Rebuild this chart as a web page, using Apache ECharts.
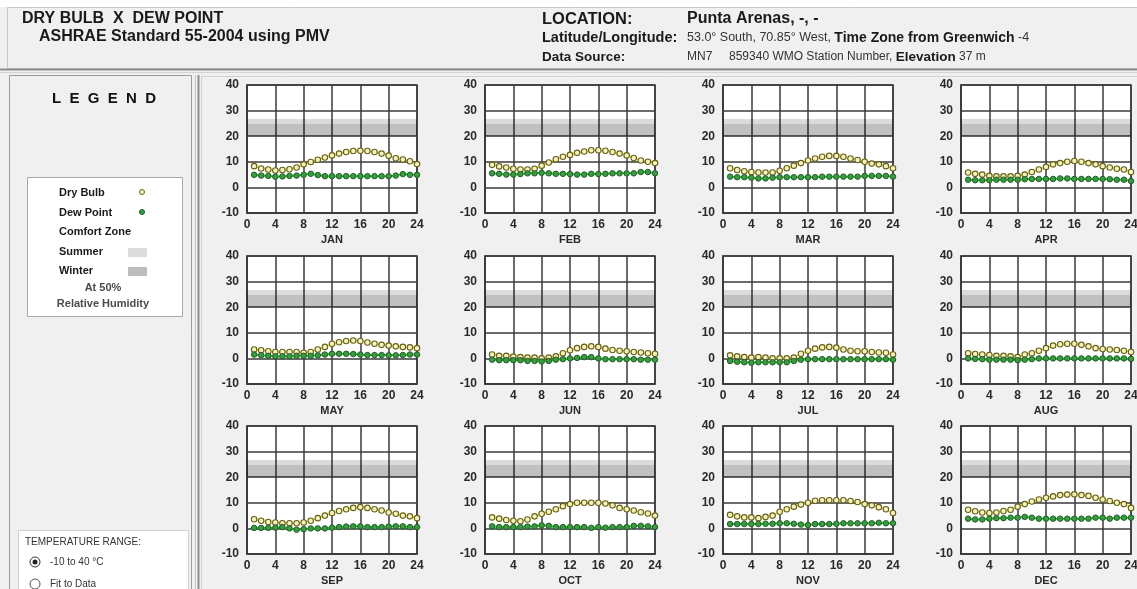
<!DOCTYPE html>
<html>
<head>
<meta charset="utf-8">
<title>Dry Bulb x Dew Point - Punta Arenas</title>
<script src="https://cdn.jsdelivr.net/npm/echarts@6/dist/echarts.min.js"></script>
<style>
  html, body { margin: 0; padding: 0; background: #f0f0f0; }
  #chart { width: 1137px; height: 589px; }
</style>
</head>
<body>
<div id="chart"></div>
<script>
// Hourly averages (hour 1..24), degrees C
const hours = [1, 2, 3, 4, 5, 6, 7, 8, 9, 10, 11, 12, 13, 14, 15, 16, 17, 18, 19, 20, 21, 22, 23, 24];
const months = ['JAN', 'FEB', 'MAR', 'APR', 'MAY', 'JUN', 'JUL', 'AUG', 'SEP', 'OCT', 'NOV', 'DEC'];

const dryJan = [8.3, 7.4, 7.0, 6.6, 6.8, 7.1, 7.8, 9.0, 9.9, 10.8, 11.7, 12.5, 13.2, 13.8, 14.2, 14.3, 14.2, 13.8, 13.2, 12.4, 11.4, 10.9, 10.2, 9.1];
const dewJan = [4.9, 4.6, 4.5, 4.2, 4.3, 4.5, 4.6, 4.9, 5.3, 4.8, 4.4, 4.4, 4.4, 4.4, 4.4, 4.4, 4.4, 4.4, 4.4, 4.4, 4.6, 5.2, 4.9, 4.9];
const dryFeb = [8.8, 8.2, 7.8, 7.3, 7.0, 7.0, 7.3, 8.5, 9.7, 11.0, 12.0, 12.7, 13.5, 14.0, 14.5, 14.5, 14.3, 13.8, 13.2, 12.5, 11.5, 10.5, 10.0, 9.5];
const dewFeb = [5.5, 5.3, 5.0, 5.0, 5.2, 5.5, 5.5, 5.7, 5.5, 5.3, 5.3, 5.2, 5.0, 5.0, 5.3, 5.2, 5.3, 5.5, 5.5, 5.5, 5.5, 6.0, 6.0, 5.5];
const dryMar = [7.5, 6.8, 6.3, 6.0, 5.8, 5.8, 5.8, 6.5, 7.5, 8.5, 9.5, 10.5, 11.3, 12.0, 12.3, 12.3, 12.0, 11.3, 10.7, 10.0, 9.3, 9.0, 8.3, 7.5];
const dewMar = [4.2, 4.0, 4.0, 3.8, 3.5, 3.5, 3.8, 4.0, 4.0, 4.0, 4.0, 4.0, 4.0, 4.2, 4.2, 4.2, 4.2, 4.2, 4.2, 4.5, 4.5, 4.5, 4.5, 4.2];
const dryApr = [5.8, 5.3, 5.0, 4.5, 4.3, 4.3, 4.3, 4.5, 5.0, 6.0, 7.0, 8.0, 9.0, 9.5, 10.0, 10.3, 10.0, 9.5, 9.0, 8.3, 7.8, 7.3, 7.0, 6.0];
const dewApr = [3.0, 2.8, 2.8, 2.8, 3.0, 3.0, 3.0, 3.0, 3.2, 3.3, 3.3, 3.3, 3.3, 3.5, 3.5, 3.3, 3.3, 3.3, 3.3, 3.3, 3.2, 3.0, 3.0, 2.5];
const dryMay = [3.5, 3.2, 2.8, 2.5, 2.5, 2.5, 2.5, 2.2, 2.5, 3.5, 4.5, 5.7, 6.3, 6.8, 7.0, 6.8, 6.2, 5.7, 5.3, 5.0, 4.7, 4.5, 4.3, 4.0];
const dewMay = [1.5, 1.2, 1.0, 0.8, 0.8, 0.8, 1.0, 1.0, 1.0, 1.2, 1.5, 1.8, 1.8, 1.8, 1.7, 1.5, 1.3, 1.3, 1.3, 1.2, 1.2, 1.3, 1.5, 1.5];
const dryJun = [1.5, 1.0, 1.0, 0.7, 0.5, 0.3, 0.3, 0.0, 0.3, 0.8, 2.0, 3.2, 4.0, 4.5, 4.7, 4.5, 3.8, 3.3, 3.0, 2.8, 2.5, 2.3, 2.0, 1.8];
const dewJun = [-0.5, -0.7, -0.7, -0.7, -0.7, -1.0, -1.0, -1.2, -1.0, -0.5, -0.3, 0.0, 0.2, 0.5, 0.5, 0.0, -0.3, -0.3, -0.3, -0.3, -0.3, -0.5, -0.5, -0.5];
const dryJul = [1.2, 0.8, 0.5, 0.3, 0.5, 0.3, 0.0, 0.0, 0.0, 0.3, 1.8, 3.0, 3.8, 4.3, 4.5, 4.2, 3.5, 3.0, 2.8, 2.8, 2.5, 2.3, 2.2, 1.5];
const dewJul = [-1.0, -1.3, -1.5, -1.7, -1.5, -1.5, -1.5, -1.5, -1.5, -1.0, -0.5, -0.3, -0.3, -0.3, -0.3, -0.3, -0.3, -0.3, -0.3, -0.3, -0.3, -0.3, -0.3, -0.5];
const dryAug = [2.0, 1.7, 1.5, 1.3, 1.0, 1.0, 0.8, 0.5, 1.5, 2.0, 3.0, 4.0, 5.0, 5.5, 5.7, 5.7, 5.3, 4.7, 4.0, 3.7, 3.5, 3.3, 3.0, 2.5];
const dewAug = [0.0, -0.2, -0.3, -0.5, -0.5, -0.5, -0.5, -0.7, -0.5, -0.3, 0.0, 0.0, 0.0, 0.0, 0.0, 0.0, 0.0, 0.0, 0.0, 0.0, 0.0, 0.0, 0.0, -0.2];
const drySep = [3.6, 3.0, 2.5, 2.3, 2.0, 2.0, 2.0, 2.3, 3.0, 4.0, 5.0, 6.0, 6.8, 7.5, 8.0, 8.3, 8.0, 7.5, 7.0, 6.2, 5.7, 5.0, 4.7, 4.0];
const dewSep = [0.2, 0.2, 0.2, 0.3, 0.5, 0.0, -0.5, -0.3, 0.0, 0.0, 0.0, 0.3, 0.5, 0.7, 0.8, 0.8, 0.5, 0.5, 0.5, 0.7, 0.8, 0.8, 0.5, 0.5];
const dryOct = [4.3, 3.8, 3.3, 3.0, 2.8, 3.5, 4.7, 5.7, 6.5, 7.5, 8.7, 9.5, 10.0, 10.0, 10.0, 10.0, 9.7, 9.0, 8.0, 7.5, 7.0, 6.3, 5.8, 5.0];
const dewOct = [0.8, 0.5, 0.5, 0.5, 0.5, 0.7, 0.8, 1.2, 1.0, 0.5, 0.5, 0.5, 0.5, 0.5, 0.2, 0.5, 0.3, 0.5, 0.5, 0.5, 1.0, 1.0, 0.8, 0.5];
const dryNov = [5.3, 4.7, 4.3, 4.3, 4.0, 4.5, 5.0, 6.5, 7.5, 8.5, 9.3, 10.0, 10.8, 11.0, 11.0, 11.0, 11.0, 10.7, 10.3, 9.5, 9.0, 8.3, 7.5, 6.0];
const dewNov = [1.7, 1.7, 1.7, 1.7, 1.7, 1.8, 1.8, 2.0, 2.0, 1.8, 1.5, 1.3, 1.7, 1.7, 1.7, 1.8, 2.0, 2.0, 2.0, 2.0, 2.0, 2.2, 2.0, 2.0];
const dryDec = [7.3, 6.7, 6.2, 6.0, 6.2, 6.8, 7.3, 8.5, 9.5, 10.5, 11.3, 12.0, 12.5, 13.0, 13.2, 13.3, 13.0, 12.7, 12.0, 11.3, 10.7, 10.0, 9.5, 8.0];
const dewDec = [3.8, 3.5, 3.5, 3.8, 4.0, 4.0, 4.2, 4.2, 4.5, 4.2, 3.8, 3.8, 3.8, 3.8, 3.8, 3.8, 3.8, 3.8, 4.2, 4.2, 3.8, 4.2, 4.2, 4.2];

const dryBulbByMonth = [dryJan, dryFeb, dryMar, dryApr, dryMay, dryJun, dryJul, dryAug, drySep, dryOct, dryNov, dryDec];
const dewPointByMonth = [dewJan, dewFeb, dewMar, dewApr, dewMay, dewJun, dewJul, dewAug, dewSep, dewOct, dewNov, dewDec];

// Comfort zone bands at 50% relative humidity (degrees C)
const summerBand = [20, 26.7];
const winterBand = [20, 24.8];

// Axis ranges
const tempMin = -10, tempMax = 40, tempStep = 10;
const hourMin = 0, hourMax = 24, hourStep = 4;

const FONT = "'Liberation Sans', Arial, sans-serif";

// panel geometry
const colLeft = [247, 485, 723, 961];
const rowTop = [85, 256, 426];
const plotW = 170, plotH = 128;

const grids = [], xAxes = [], yAxes = [], series = [];
months.forEach((m, i) => {
  const r = Math.floor(i / 4), c = i % 4;
  grids.push({
    left: colLeft[c], top: rowTop[r], width: plotW, height: plotH,
    show: true, backgroundColor: '#ffffff', borderColor: '#3a3a3a', borderWidth: 1.5,
    containLabel: false, outerBoundsMode: 'none'
  });
  xAxes.push({
    gridIndex: i, type: 'value', min: hourMin, max: hourMax, interval: hourStep,
    name: m, nameLocation: 'middle', nameGap: 21,
    nameTextStyle: { fontFamily: FONT, fontWeight: 'bold', fontSize: 11, color: '#2a2a2a' },
    axisLine: { show: true, onZero: false, lineStyle: { color: '#3a3a3a', width: 1.5 } },
    axisTick: { show: false },
    axisLabel: { fontFamily: FONT, fontWeight: 'bold', fontSize: 12, color: '#2a2a2a', margin: 6 },
    splitLine: { show: true, lineStyle: { color: '#3a3a3a', width: 1.5 } }
  });
  yAxes.push({
    gridIndex: i, type: 'value', min: tempMin, max: tempMax, interval: tempStep,
    axisLine: { show: true, onZero: false, lineStyle: { color: '#3a3a3a', width: 1.5 } },
    axisTick: { show: false },
    axisLabel: { fontFamily: FONT, fontWeight: 'bold', fontSize: 12, color: '#2a2a2a', margin: 8 },
    splitLine: { show: true, lineStyle: { color: '#3a3a3a', width: 1.5 } }
  });
  series.push({
    name: 'Dry Bulb', type: 'line', xAxisIndex: i, yAxisIndex: i,
    data: hours.map((h, k) => [h, dryBulbByMonth[i][k]]),
    symbol: 'circle', symbolSize: 5.5, showSymbol: true,
    lineStyle: { color: '#e2da2c', width: 1.2 },
    itemStyle: { color: '#f4f0c4', borderColor: '#66600e', borderWidth: 1.1 },
    markArea: {
      silent: true,
      data: [
        [{ yAxis: summerBand[0], itemStyle: { color: 'rgba(0,0,0,0.14)' } }, { yAxis: summerBand[1] }],
        [{ yAxis: winterBand[0], itemStyle: { color: 'rgba(0,0,0,0.12)' } }, { yAxis: winterBand[1] }]
      ]
    },
    z: 3
  });
  series.push({
    name: 'Dew Point', type: 'line', xAxisIndex: i, yAxisIndex: i,
    data: hours.map((h, k) => [h, dewPointByMonth[i][k]]),
    symbol: 'circle', symbolSize: 5.5, showSymbol: true,
    lineStyle: { color: '#34c03c', width: 2 },
    itemStyle: { color: '#3a9c40', borderColor: '#1f5f26', borderWidth: 1 },
    z: 4
  });
});

function txt(x, y, text, font, fill, align) {
  return { type: 'text', x: x, y: y, silent: true,
    style: { text: text, font: font, fill: fill || '#1a1a1a', align: align || 'left', verticalAlign: 'middle' } };
}
function richTxt(x, y, text, rich) {
  return { type: 'text', x: x, y: y, silent: true,
    style: { text: text, rich: rich, verticalAlign: 'middle', align: 'left' } };
}
function box(x, y, w, h, fill, stroke, lw) {
  return { type: 'rect', silent: true, shape: { x: x, y: y, width: w, height: h },
    style: { fill: fill, stroke: stroke, lineWidth: lw || 1 } };
}
function hline(x1, x2, y, stroke, lw) {
  return { type: 'line', silent: true, shape: { x1: x1, y1: y, x2: x2, y2: y }, style: { stroke: stroke, lineWidth: lw || 1 } };
}
function vline(x, y1, y2, stroke, lw) {
  return { type: 'line', silent: true, shape: { x1: x, y1: y1, x2: x, y2: y2 }, style: { stroke: stroke, lineWidth: lw || 1 } };
}

const rn = { fontFamily: FONT, fontSize: 12.5, fill: '#333333' };
const rb = { fontFamily: FONT, fontSize: 14, fontWeight: 'bold', fill: '#1a1a1a' };

const graphics = [
  // page frame
  box(0, 0, 1137, 7, '#ffffff', null),
  box(7.5, 7.5, 1140, 61, '#f0f0f0', '#c8c8c8'),
  hline(0, 1137, 69.5, '#8e8e8e', 2),
  hline(0, 1137, 72.5, '#d4d4d4', 1),
  box(9.5, 75.5, 182, 520, '#f0f0f0', '#9c9c9c'),
  vline(195.5, 75, 589, '#c8c8c8', 1),
  vline(198.5, 75, 589, '#8e8e8e', 2),
  box(201.5, 76.5, 940, 520, '#f0f0f0', '#d0d0d0'),

  // header: title
  txt(22, 19, 'DRY BULB  X  DEW POINT', 'bold 16px ' + FONT, '#1a1a1a'),
  txt(39, 37, 'ASHRAE Standard 55-2004 using PMV', 'bold 16px ' + FONT, '#1a1a1a'),

  // header: location block
  txt(542, 19, 'LOCATION:', 'bold 16.5px ' + FONT, '#1a1a1a'),
  txt(687, 19, 'Punta Arenas, -, -', 'bold 16px ' + FONT, '#1a1a1a'),
  txt(542, 38, 'Latitude/Longitude:', 'bold 14.5px ' + FONT, '#1a1a1a'),
  richTxt(687, 38, '{n|53.0° South, 70.85° West, }{b|Time Zone from Greenwich}{n| -4}', { n: rn, b: rb }),
  txt(542, 57, 'Data Source:', 'bold 13.5px ' + FONT, '#1a1a1a'),
  richTxt(687, 57, '{n|MN7     859340 WMO Station Number, }{b|Elevation}{n| 37 m}', { n: Object.assign({}, rn, { fontSize: 12 }), b: Object.assign({}, rb, { fontSize: 13.5 }) }),

  // legend panel
  txt(104, 99, 'L  E  G  E  N  D', 'bold 15px ' + FONT, '#111111', 'center'),
  box(27.5, 177.5, 155, 139, '#ffffff', '#a8a8a8'),
  txt(59, 193, 'Dry Bulb', 'bold 11px ' + FONT, '#1a1a1a'),
  { type: 'circle', silent: true, shape: { cx: 142, cy: 192, r: 2.5 }, style: { fill: '#f4f0c4', stroke: '#66600e', lineWidth: 1 } },
  txt(59, 213, 'Dew Point', 'bold 11px ' + FONT, '#1a1a1a'),
  { type: 'circle', silent: true, shape: { cx: 142, cy: 212, r: 2.5 }, style: { fill: '#3a9c40', stroke: '#1f5f26', lineWidth: 1 } },
  txt(59, 232, 'Comfort Zone', 'bold 11px ' + FONT, '#1a1a1a'),
  txt(59, 252, 'Summer', 'bold 11px ' + FONT, '#1a1a1a'),
  box(128, 248, 19, 9, '#dcdcdc', null),
  txt(59, 271, 'Winter', 'bold 11px ' + FONT, '#1a1a1a'),
  box(128, 267, 19, 9, '#bdbdbd', null),
  txt(103, 288, 'At 50%', 'bold 11px ' + FONT, '#4a4a4a', 'center'),
  txt(103, 304, 'Relative Humidity', 'bold 11px ' + FONT, '#4a4a4a', 'center'),

  // temperature range selector
  box(18.5, 530.5, 170, 70, '#ffffff', '#cfcfcf'),
  txt(25, 542, 'TEMPERATURE RANGE:', '10px ' + FONT, '#333333'),
  { type: 'circle', silent: true, shape: { cx: 35, cy: 562, r: 5 }, style: { fill: '#ffffff', stroke: '#333333', lineWidth: 1 } },
  { type: 'circle', silent: true, shape: { cx: 35, cy: 562, r: 2.5 }, style: { fill: '#222222' } },
  txt(50, 562, '-10 to 40 °C', '10px ' + FONT, '#333333'),
  { type: 'circle', silent: true, shape: { cx: 35, cy: 584, r: 5 }, style: { fill: '#ffffff', stroke: '#555555', lineWidth: 1 } },
  txt(50, 584, 'Fit to Data', '10px ' + FONT, '#333333')
];

const chart = echarts.init(document.getElementById('chart'), null, { renderer: 'canvas' });
chart.setOption({
  animation: false,
  backgroundColor: '#f0f0f0',
  graphic: { elements: graphics.map(g => Object.assign({ z: -5 }, g)) },
  grid: grids,
  xAxis: xAxes,
  yAxis: yAxes,
  series: series
});
</script>
</body>
</html>
